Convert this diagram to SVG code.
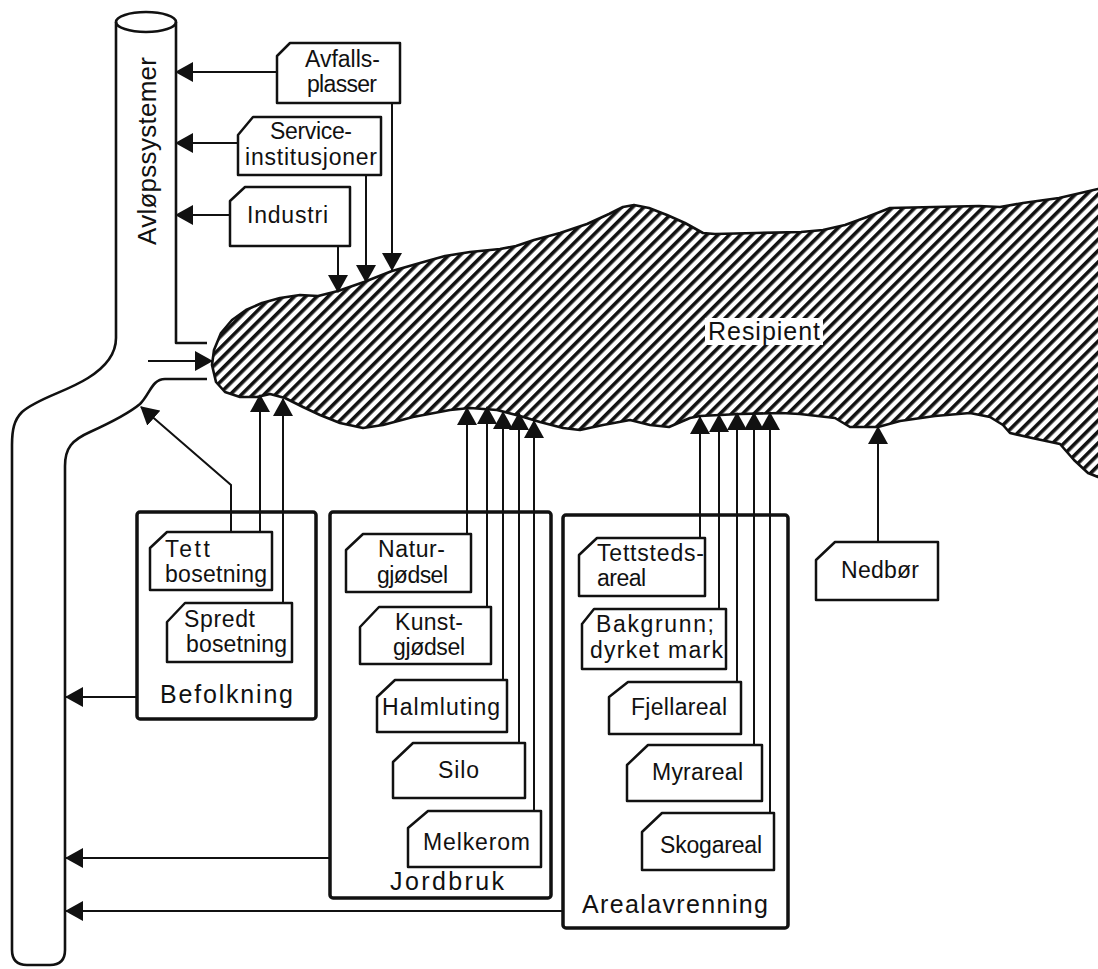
<svg xmlns="http://www.w3.org/2000/svg" width="1098" height="969" viewBox="0 0 1098 969">
<defs>
<style>
.box{fill:#fff;stroke:#111;stroke-width:2.5;stroke-linejoin:round}
.grp{fill:none;stroke:#111;stroke-width:3.5;stroke-linejoin:round}
.t{font-family:"Liberation Sans",Arial,sans-serif;font-size:23px;fill:#111}
.g{font-family:"Liberation Sans",Arial,sans-serif;font-size:25px;fill:#111}
.c{fill:none;stroke:#111;stroke-width:2;marker-end:url(#ah)}
.pipe{fill:none;stroke:#111;stroke-width:2.6;stroke-linejoin:round}
</style>
<marker id="ah" viewBox="0 0 18 20" refX="17" refY="10" markerWidth="18" markerHeight="20" markerUnits="userSpaceOnUse" orient="auto">
<path d="M0,0 L18,10 L0,20 z" fill="#111"/>
</marker>
<pattern id="hatch" width="8" height="8" patternUnits="userSpaceOnUse" patternTransform="rotate(45)">
<rect width="8" height="8" fill="#fff"/>
<rect width="3.6" height="8" fill="#111"/>
</pattern>
</defs>
<rect width="1098" height="969" fill="#fff"/>

<g id="resipient">
<path fill="url(#hatch)" stroke="#111" stroke-width="2.6" stroke-linejoin="round" d="M212,365 L214,350 L221,333 L232,320 L246,310 L262,303 L280,298 L300,295 L318,296 L338,291 L364,282 L392,271 L420,263 L445,256 L470,252 L500,249 L516,246 L534,240 L560,233 L587,224 L609,214 L623,207 L634,205 L649,208 L667,215 L685,223 L703,233 L715,234 L756,233 L801,232 L823,230 L845,225 L867,217 L890,208 L934,207 L979,206 L1000,207 L1023,203 L1059,198 L1098,189 L1110,187 L1110,478 L1098,477 L1088,473 L1074,460 L1060,444 L1032,438 L1010,433 L1003,425 L990,417 L970,413 L935,416 L900,421 L878,427 L850,427 L835,418 L800,414 L781,413 L740,414 L700,416 L690,418 L669,427 L650,425 L630,420 L603,425 L580,430 L563,428 L540,422 L520,416 L497,410 L470,408 L450,410 L413,417 L383,425 L363,428 L340,423 L320,415 L303,407 L285,398 L270,394 L257,397 L240,397 L225,392 L216,382 Z"/>
<rect x="705" y="318" width="118" height="27" fill="#fff"/>
<text class="g" x="708" y="340" textLength="112">Resipient</text>
</g>

<g id="avlopssystemer">
<ellipse cx="146" cy="22" rx="30" ry="10" class="pipe"/>
<path class="pipe" d="M116,22 V338 C116,356 104,368 88,378 C66,392 38,398 22,412 C14,420 12,430 12,445 V950 Q12,965 27,965 H50 Q65,965 65,950 V466 C65,448 72,440 90,432 C112,422 128,414 140,404 C150,394 152,379 165,379 H207"/>
<path class="pipe" d="M176,22 V343 H207"/>
<text class="g" style="font-size:26px" transform="translate(156,151) rotate(-90)" text-anchor="middle" textLength="188">Avløpssystemer</text>
</g>

<g id="avfallsplasser">
<polygon class="box" points="277,56 290,43 400,43 400,103 277,103"/>
<text class="t" x="305" y="67" textLength="75">Avfalls-</text>
<text class="t" x="307" y="92" textLength="70">plasser</text>
</g>
<g id="serviceinstitusjoner">
<polygon class="box" points="238,135 253,117 381,117 381,175 238,175"/>
<text class="t" x="270" y="139" textLength="82">Service-</text>
<text class="t" x="245" y="165" textLength="132">institusjoner</text>
</g>
<g id="industri">
<polygon class="box" points="230,201 245,187 350,187 350,246 230,246"/>
<text class="t" x="247" y="223" textLength="81">Industri</text>
</g>

<g id="befolkning">
<rect class="grp" x="137" y="512" width="179" height="207" rx="3"/>
<text class="g" x="160" y="703" textLength="133">Befolkning</text>
</g>
<g id="tett-bosetning">
<polygon class="box" points="150,548 167,532 272,532 272,590 150,590"/>
<text class="t" x="165" y="557" textLength="45">Tett</text>
<text class="t" x="165" y="582" textLength="102">bosetning</text>
</g>
<g id="spredt-bosetning">
<polygon class="box" points="167,622 185,603 292,603 292,662 167,662"/>
<text class="t" x="184" y="627" textLength="71">Spredt</text>
<text class="t" x="186" y="652" textLength="101">bosetning</text>
</g>

<g id="jordbruk">
<rect class="grp" x="330" y="512" width="221" height="386" rx="3"/>
<text class="g" x="390" y="890" textLength="114">Jordbruk</text>
</g>
<g id="naturgjodsel">
<polygon class="box" points="346,550 363,534 471,534 471,592 346,592"/>
<text class="t" x="378" y="557" textLength="67">Natur-</text>
<text class="t" x="377" y="583" textLength="71">gjødsel</text>
</g>
<g id="kunstgjodsel">
<polygon class="box" points="360,627 379,607 491,607 491,664 360,664"/>
<text class="t" x="395" y="630" textLength="68">Kunst-</text>
<text class="t" x="393" y="655" textLength="72">gjødsel</text>
</g>
<g id="halmluting">
<polygon class="box" points="377,697 395,680 507,680 507,732 377,732"/>
<text class="t" x="382" y="715" textLength="118">Halmluting</text>
</g>
<g id="silo">
<polygon class="box" points="393,762 413,743 525,743 525,798 393,798"/>
<text class="t" x="438" y="778" textLength="41">Silo</text>
</g>
<g id="melkerom">
<polygon class="box" points="408,828 428,811 541,811 541,867 408,867"/>
<text class="t" x="423" y="850" textLength="107">Melkerom</text>
</g>

<g id="arealavrenning">
<rect class="grp" x="563" y="515" width="225" height="413" rx="3"/>
<text class="g" x="582" y="913" textLength="186">Arealavrenning</text>
</g>
<g id="tettstedsareal">
<polygon class="box" points="579,555 597,538 705,538 705,596 579,596"/>
<text class="t" x="597" y="561" textLength="107">Tettsteds-</text>
<text class="t" x="597" y="586" textLength="49">areal</text>
</g>
<g id="bakgrunn">
<polygon class="box" points="582,624 594,609 726,609 726,669 582,669"/>
<text class="t" x="596" y="632" textLength="118">Bakgrunn;</text>
<text class="t" x="590" y="658" textLength="133">dyrket mark</text>
</g>
<g id="fjellareal">
<polygon class="box" points="609,697 628,682 741,682 741,734 609,734"/>
<text class="t" x="631" y="715" textLength="96">Fjellareal</text>
</g>
<g id="myrareal">
<polygon class="box" points="627,765 648,745 762,745 762,801 627,801"/>
<text class="t" x="652" y="780" textLength="91">Myrareal</text>
</g>
<g id="skogareal">
<polygon class="box" points="642,832 662,813 774,813 774,870 642,870"/>
<text class="t" x="660" y="853" textLength="102">Skogareal</text>
</g>

<g id="nedbor">
<polygon class="box" points="816,560 835,542 938,542 938,600 816,600"/>
<text class="t" x="841" y="578" textLength="78">Nedbør</text>
</g>

<g id="connectors">
<path class="c" d="M277,72 H176"/>
<path class="c" d="M238,143 H176"/>
<path class="c" d="M230,215 H176"/>
<path class="c" d="M148,361 H212"/>
<path class="c" d="M137,697 H66"/>
<path class="c" d="M330,858 H66"/>
<path class="c" d="M563,911 H66"/>
<path class="c" d="M231,532 V485 L141,407"/>
<path class="c" d="M338,246 V292"/>
<path class="c" d="M366,175 V282"/>
<path class="c" d="M392,103 V270"/>
<path class="c" d="M260,532 V395"/>
<path class="c" d="M283,603 V399"/>
<path class="c" d="M467,534 V408"/>
<path class="c" d="M487,607 V407"/>
<path class="c" d="M503,680 V412"/>
<path class="c" d="M519,743 V413"/>
<path class="c" d="M534,811 V421"/>
<path class="c" d="M700,538 V417"/>
<path class="c" d="M719,609 V415"/>
<path class="c" d="M737,682 V413"/>
<path class="c" d="M754,745 V413"/>
<path class="c" d="M770,813 V413"/>
<path class="c" d="M878,542 V427"/>
</g>
</svg>
